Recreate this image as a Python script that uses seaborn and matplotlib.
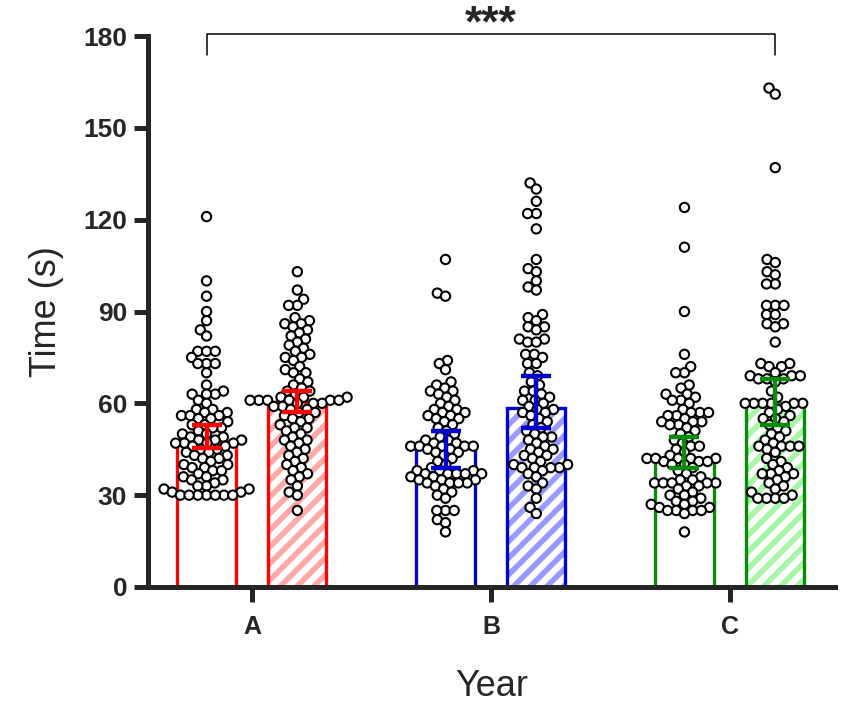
import matplotlib
matplotlib.use("Agg")
import matplotlib.pyplot as plt
from matplotlib.patches import Rectangle
from matplotlib.collections import PathCollection
import numpy as np
import seaborn as sns
import pandas as pd

sns.set_style("ticks")
plt.rcParams["font.family"] = ["Liberation Sans", "DejaVu Sans"]
plt.rcParams["hatch.linewidth"] = 4.0

years = ["A", "B", "C"]
sessions = ["first", "second"]

# individual measurements (s) per year and session
a_first = [121, 100, 95, 90, 87, 84, 82, 77, 77, 77, 75, 73, 73, 73, 70, 66, 64, 63, 63, 63, 61, 60,
           58, 58, 57, 57, 56, 56, 56, 55, 55, 54, 53, 53, 52, 52, 51, 50, 50, 49, 49, 48,
           48, 48, 47, 47, 47, 47, 46, 46, 45, 45, 44, 44, 43, 43, 42, 42, 41, 40, 40, 39,
           39, 38, 38, 37, 36, 36, 35, 35, 34, 33, 33, 32, 32, 31, 31, 30, 30, 30, 30, 30, 30, 30]
a_second = [103, 97, 94, 92, 92, 88, 87, 86, 86, 85, 84, 83, 82, 81, 80, 79, 78, 77, 76, 75,
            75, 74, 72, 71, 70, 70, 68, 67, 66, 65, 64, 64, 63, 62, 62, 62, 61, 61, 61, 61,
            61, 61, 60, 60, 60, 59, 59, 58, 58, 57, 57, 56, 55, 55, 54, 53, 52, 52, 51, 50,
            49, 48, 48, 47, 46, 45, 44, 43, 42, 41, 40, 39, 38, 37, 36, 35, 33, 31, 30, 25]
b_first = [107, 96, 95, 74, 73, 71, 67, 66, 65, 64, 64, 63, 62, 61, 60, 59, 58, 58, 57, 57,
           56, 56, 55, 55, 54, 53, 52, 51, 50, 49, 48, 48, 47, 47, 46, 46, 46, 46, 46, 45,
           45, 44, 44, 43, 42, 41, 40, 39, 38, 38, 38, 37, 37, 37, 37, 37, 36, 36, 35, 35,
           35, 34, 34, 34, 34, 33, 32, 31, 30, 29, 25, 25, 25, 22, 21, 18]
b_second = [132, 130, 126, 122, 122, 117, 107, 104, 103, 100, 98, 97, 89, 88, 87, 85, 85, 84, 81, 81,
            80, 80, 76, 76, 75, 73, 73, 70, 69, 67, 66, 64, 64, 63, 62, 61, 61, 60, 59, 58,
            58, 57, 57, 56, 55, 54, 53, 52, 51, 50, 49, 49, 48, 47, 46, 45, 45, 44, 43, 43,
            42, 41, 40, 40, 39, 39, 39, 39, 38, 37, 36, 34, 33, 32, 29, 26, 24]
c_first = [124, 111, 90, 76, 72, 70, 70, 66, 65, 63, 63, 62, 61, 61, 60, 58, 57, 57, 57, 56,
           56, 55, 54, 54, 54, 53, 53, 52, 51, 50, 49, 48, 47, 46, 46, 45, 44, 43, 42, 42,
           42, 42, 42, 41, 41, 41, 40, 40, 39, 38, 37, 36, 35, 35, 34, 34, 34, 34, 34, 33,
           33, 32, 31, 30, 30, 29, 28, 28, 27, 27, 26, 26, 25, 25, 25, 25, 24, 18]
c_second = [163, 161, 137, 107, 106, 103, 102, 99, 99, 92, 92, 92, 89, 89, 86, 86, 85, 80, 73, 73,
            72, 72, 70, 69, 69, 69, 68, 68, 68, 67, 64, 62, 60, 60, 60, 60, 60, 60, 59, 58,
            57, 56, 55, 55, 54, 53, 52, 51, 50, 49, 48, 47, 46, 46, 46, 46, 45, 44, 42, 41,
            40, 39, 38, 37, 37, 37, 36, 35, 34, 33, 32, 31, 30, 29, 29, 29, 29]

# bar heights (median) and interval limits, ordered A-first, A-second, B-first, ...
bar_height = [47.8, 60.5, 45.8, 58.4, 41.3, 60.2]
err_low = [45.3, 57.3, 39.0, 52.1, 39.0, 52.9]
err_high = [52.9, 64.1, 51.0, 68.9, 49.1, 67.9]

dark_colors = {"A": "#ff0000", "B": "#0000cc", "C": "#0a8a0a"}
light_colors = {"A": "#ffa8a8", "B": "#9a9aff", "C": "#a8f5a8"}

samples = {("A", "first"): a_first, ("A", "second"): a_second,
           ("B", "first"): b_first, ("B", "second"): b_second,
           ("C", "first"): c_first, ("C", "second"): c_second}

rows = []
for (yr, ses), vals in samples.items():
    rows += [{"Year": yr, "Session": ses, "Time": v} for v in vals]
points = pd.DataFrame(rows)

bars = pd.DataFrame({
    "Year": [y for y in years for _ in sessions],
    "Session": [s for _ in years for s in sessions],
    "Time": bar_height,
    "Low": err_low,
    "High": err_high,
})

fig = plt.figure(figsize=(8.46, 7.03), dpi=100)
ax = fig.add_axes([148 / 846, 116 / 703, 687 / 846, 551 / 703])
ax.set_ylim(0, 180)
ax.set_xlim(-0.435, 2.44)

sns.barplot(data=bars, x="Year", y="Time", hue="Session", order=years, hue_order=sessions,
            width=0.76, gap=0.36, errorbar=None, legend=False, ax=ax)

# style bars: open outline for first session, hatched fill for second
centers = {}
for patch in list(ax.patches):
    cx = patch.get_x() + patch.get_width() / 2
    gi = int(round(cx))
    yr = years[gi]
    ses = "first" if cx < gi else "second"
    centers[(yr, ses)] = cx
    patch.set_facecolor("none")
    patch.set_edgecolor(dark_colors[yr])
    patch.set_linewidth(2.4)
    patch.set_zorder(1.5)
    if ses == "second":
        ax.add_patch(Rectangle((patch.get_x(), patch.get_y()), patch.get_width(),
                               patch.get_height(), facecolor="white",
                               edgecolor=light_colors[yr], linewidth=0, hatch="//",
                               zorder=1.0))

# swarm laid out with a tight footprint, then drawn with larger overlapping circles
n_before = len(ax.collections)
sns.swarmplot(data=points, x="Year", y="Time", hue="Session", order=years,
              hue_order=sessions, dodge=True,
              palette={"first": "white", "second": "white"}, edgecolor="black",
              linewidth=1.5, size=4.8, legend=False, ax=ax, zorder=3, warn_thresh=1)
ax.set_xlim(-0.435, 2.44)
ax.set_ylim(0, 180)
fig.canvas.draw()

for coll in ax.collections[n_before:]:
    if isinstance(coll, PathCollection):
        if "draw" in coll.__dict__:
            del coll.draw
        off = np.array(coll.get_offsets())
        if len(off):
            base = np.round(off[:, 0])
            off[:, 0] = base + (off[:, 0] - base) * 0.95
            coll.set_offsets(off)
        coll.set_sizes([6.7 ** 2])

for _, r in bars.iterrows():
    cx = centers[(r["Year"], r["Session"])]
    ax.errorbar([cx], [r["Time"]], yerr=[[r["Time"] - r["Low"]], [r["High"] - r["Time"]]],
                fmt="none", ecolor=dark_colors[r["Year"]], elinewidth=3.2,
                capsize=10.5, capthick=3.2, zorder=4)

# significance bracket between first session of A and second session of C
x_left = centers[("A", "first")]
x_right = centers[("C", "second")]
ax.plot([x_left, x_left, x_right, x_right], [173.8, 180.7, 180.7, 173.8],
        color="black", lw=1.1, clip_on=False, zorder=5)
ax.text((x_left + x_right) / 2, 180.0, "***", ha="center", va="baseline",
        fontsize=32, fontweight="bold", clip_on=False)

ax.set_ylim(0, 180)
ax.set_xlim(-0.435, 2.44)
ax.set_yticks(range(0, 181, 30))
ax.tick_params(axis="y", length=10, width=3.6, labelsize=19, pad=5)
ax.tick_params(axis="x", length=11, width=3.6, labelsize=18, pad=9)
for lab in ax.get_xticklabels() + ax.get_yticklabels():
    lab.set_fontweight("bold")

ax.set_ylabel("Time (s)", fontsize=26, labelpad=14)
ax.set_xlabel("Year", fontsize=26, labelpad=22)

sns.despine(ax=ax)
for side in ("left", "bottom"):
    ax.spines[side].set_linewidth(3.6)

fig.savefig("out.png", dpi=100)
